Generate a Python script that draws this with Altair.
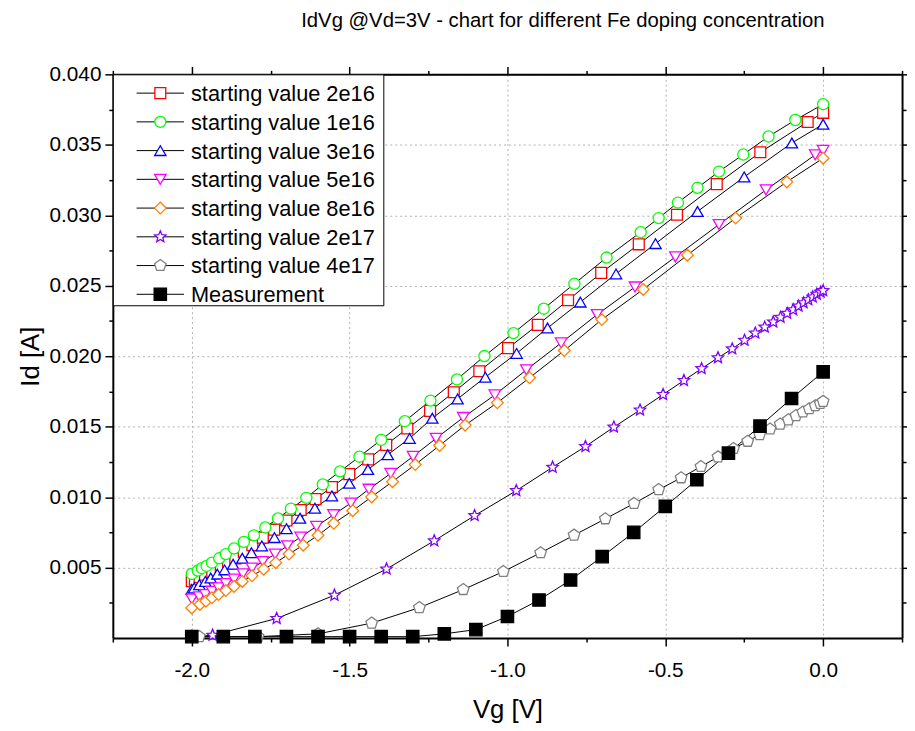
import altair as alt
import pandas as pd

# ---------------- data ----------------
series_names = [
    "starting value 2e16", "starting value 1e16", "starting value 3e16",
    "starting value 5e16", "starting value 8e16", "starting value 2e17",
    "starting value 4e17", "Measurement",
]
colors = ["#FF0000", "#00FF00", "#0000FF", "#FF00FF", "#FF8000", "#8000FF", "#808080", "#000000"]
STAR = ("M0,-1L0.2645,-0.3641L0.9511,-0.309L0.428,0.1391L0.5878,0.809L0,0.45"
        "L-0.5878,0.809L-0.428,0.1391L-0.9511,-0.309L-0.2645,-0.3641Z")
PENT = "M0,-1L0.9511,-0.309L0.5878,0.809L-0.5878,0.809L-0.9511,-0.309Z"
shapes = ["square", "circle", "triangle-up", "triangle-down", "diamond", STAR, PENT, "square"]
sizes = [121, 156, 169, 169, 196, 169, 156, 130]
fills = ["white"] * 7 + ["black"]

v_2e16 = [-2.0, -1.99, -1.975, -1.958, -1.935, -1.908, -1.885, -1.862, -1.835, -1.808, -1.775,
          -1.739, -1.700, -1.655, -1.608, -1.556, -1.501, -1.441, -1.384, -1.317, -1.245, -1.170,
          -1.089, -0.998, -0.904, -0.808, -0.703, -0.584, -0.463, -0.337, -0.199, -0.049, 0.0]
i_2e16 = [0.00403, 0.00415, 0.00432, 0.00450, 0.00470, 0.00496, 0.0053, 0.00566, 0.00612, 0.00659,
          0.00713, 0.00769, 0.00834, 0.00909, 0.00986, 0.01072, 0.01163, 0.01268, 0.01371, 0.01487,
          0.01612, 0.01744, 0.01893, 0.02057, 0.02222, 0.02397, 0.02591, 0.02794, 0.03004, 0.03221,
          0.03447, 0.03662, 0.03727]

v_1e16 = [-2.0, -1.981, -1.968, -1.953, -1.936, -1.913, -1.892, -1.866, -1.835, -1.803, -1.767,
          -1.727, -1.686, -1.637, -1.585, -1.530, -1.469, -1.400, -1.325, -1.244, -1.160, -1.073,
          -0.981, -0.885, -0.788, -0.686, -0.578, -0.521, -0.460, -0.398, -0.330, -0.253, -0.173,
          -0.088, 0.0]
i_1e16 = [0.00455, 0.00479, 0.00496, 0.00512, 0.00535, 0.00566, 0.00596, 0.00636, 0.00682, 0.00729,
          0.00785, 0.00849, 0.00918, 0.00995, 0.01090, 0.01183, 0.01287, 0.01406, 0.01539, 0.01685,
          0.01835, 0.02001, 0.02164, 0.02337, 0.02514, 0.02700, 0.02880, 0.02980, 0.03090, 0.03195,
          0.03310, 0.03431, 0.03559, 0.03676, 0.03788]

v_3e16 = [-2.0, -1.992, -1.976, -1.957, -1.940, -1.919, -1.896, -1.869, -1.840, -1.811, -1.778,
          -1.738, -1.700, -1.657, -1.610, -1.556, -1.501, -1.442, -1.379, -1.310, -1.238, -1.158,
          -1.070, -0.971, -0.873, -0.769, -0.656, -0.531, -0.398, -0.250, -0.099, 0.0]
i_3e16 = [0.00345, 0.00356, 0.00379, 0.00402, 0.00426, 0.00454, 0.00484, 0.00524, 0.00566, 0.00605,
          0.00654, 0.00713, 0.00776, 0.00850, 0.00922, 0.01009, 0.01098, 0.01196, 0.01301, 0.01417,
          0.01560, 0.01697, 0.01851, 0.02020, 0.02200, 0.02384, 0.02584, 0.02799, 0.03027, 0.03272,
          0.03513, 0.03646]

v_5e16 = [-2.0, -1.976, -1.957, -1.936, -1.915, -1.892, -1.866, -1.838, -1.809, -1.775, -1.736,
          -1.697, -1.655, -1.605, -1.551, -1.496, -1.439, -1.370, -1.299, -1.226, -1.140, -1.040,
          -0.940, -0.830, -0.716, -0.596, -0.468, -0.330, -0.181, -0.025, 0.0]
i_5e16 = [0.00277, 0.00293, 0.00309, 0.00332, 0.00356, 0.00386, 0.00419, 0.00456, 0.00496, 0.00542,
          0.00596, 0.00654, 0.00717, 0.00792, 0.00875, 0.00958, 0.01056, 0.01168, 0.01289, 0.01417,
          0.01565, 0.01725, 0.01903, 0.02094, 0.02295, 0.02491, 0.02705, 0.02934, 0.03180, 0.03429,
          0.03460]

v_8e16 = [-2.0, -1.974, -1.955, -1.936, -1.915, -1.892, -1.866, -1.840, -1.809, -1.772, -1.734,
          -1.692, -1.647, -1.600, -1.550, -1.490, -1.430, -1.364, -1.292, -1.215, -1.134, -1.032,
          -0.930, -0.820, -0.701, -0.570, -0.430, -0.277, -0.115, 0.0]
i_8e16 = [0.00214, 0.00239, 0.00262, 0.00286, 0.00309, 0.00337, 0.00367, 0.00402, 0.00442, 0.00489,
          0.00535, 0.00596, 0.00659, 0.00729, 0.00815, 0.00904, 0.01002, 0.01110, 0.01231, 0.01366,
          0.01511, 0.01670, 0.01847, 0.02040, 0.02260, 0.02474, 0.02717, 0.02980, 0.03237, 0.03405]

v_2e17 = [-2.0, -1.934, -1.731, -1.548, -1.383, -1.232, -1.104, -0.972, -0.857, -0.753, -0.663,
          -0.580, -0.507, -0.441, -0.385, -0.333, -0.288, -0.249, -0.215, -0.185, -0.158, -0.135,
          -0.114, -0.095, -0.078, -0.062, -0.047, -0.033, -0.020, -0.008, 0.0]
i_2e17 = [0.0001, 0.0002, 0.00139, 0.00304, 0.00490, 0.00690, 0.00869, 0.01046, 0.01212, 0.01359,
          0.01497, 0.01618, 0.01728, 0.01828, 0.01912, 0.01989, 0.02052, 0.02113, 0.02164, 0.02206,
          0.02243, 0.02276, 0.02304, 0.02330, 0.02355, 0.02379, 0.02400, 0.02420, 0.02440, 0.02455,
          0.02465]

v_4e17 = [-2.0, -1.976, -1.79, -1.60, -1.43, -1.279, -1.14, -1.013, -0.895, -0.789, -0.690, -0.599,
          -0.521, -0.450, -0.387, -0.333, -0.284, -0.239, -0.201, -0.168, -0.136, -0.110, -0.086,
          -0.064, -0.044, -0.025, -0.009, 0.0]
i_4e17 = [0.0001, 0.0001, 0.0001, 0.0003, 0.00106, 0.00216, 0.00344, 0.00472, 0.00605, 0.00730,
          0.00846, 0.00955, 0.01053, 0.01137, 0.01217, 0.01285, 0.01345, 0.01396, 0.01443, 0.01483,
          0.01518, 0.01548, 0.01578, 0.01604, 0.01627, 0.01648, 0.01664, 0.01679]

v_meas = [-2.0, -1.9, -1.8, -1.7, -1.6, -1.5, -1.4, -1.3, -1.2, -1.1, -1.0, -0.9, -0.8, -0.7, -0.6,
          -0.5, -0.4, -0.3, -0.2, -0.1, 0.0]
i_meas = [0.0001, 0.0001, 0.0001, 0.0001, 0.0001, 0.0001, 0.0001, 0.0001, 0.0003, 0.0006, 0.00153,
          0.0027, 0.00412, 0.00578, 0.0075, 0.00934, 0.01123, 0.01312, 0.01504, 0.0170, 0.01889]

x_ticks = [-2.25, -2.0, -1.75, -1.5, -1.25, -1.0, -0.75, -0.5, -0.25, 0.0, 0.25]
y_ticks = [0.0025, 0.005, 0.0075, 0.01, 0.0125, 0.015, 0.0175, 0.02, 0.0225, 0.025, 0.0275,
           0.03, 0.0325, 0.035, 0.0375, 0.04]

all_series = [(v_2e16, i_2e16), (v_1e16, i_1e16), (v_3e16, i_3e16), (v_5e16, i_5e16),
              (v_8e16, i_8e16), (v_2e17, i_2e17), (v_4e17, i_4e17), (v_meas, i_meas)]

rows = []
for order, (name, (vs, cs)) in enumerate(zip(series_names, all_series)):
    for v, c in zip(vs, cs):
        rows.append({"series": name, "order": order, "Vg": v, "Id": c})
df = pd.DataFrame(rows)

legend_df = pd.DataFrame({"series": series_names, "row": list(range(len(series_names)))})
box_df = pd.DataFrame({"k": [0]})

# ---------------- style ----------------
FONT = "Liberation Sans"
X_MAJOR = "abs(datum.value * 2 - round(datum.value * 2)) < 0.001"
Y_MAJOR = "abs(datum.value * 200 - round(datum.value * 200)) < 0.001"

x_scale = alt.Scale(domain=[-2.25, 0.25], nice=False, zero=False)
y_scale = alt.Scale(domain=[0, 0.04], nice=False, zero=False)

shape_s = alt.Scale(domain=series_names, range=shapes)
stroke_s = alt.Scale(domain=series_names, range=colors)
fill_s = alt.Scale(domain=series_names, range=fills)
size_s = alt.Scale(domain=series_names, range=sizes)


def make_axis(orient, values, major, labels, fmt, title=None, grid=False,
              label_pad=2, title_pad=4):
    kw = dict(
        orient=orient, values=values,
        tickSize={"condition": {"test": major, "value": 8}, "value": 4},
        tickWidth=1.5, tickColor="black", domainColor="black", domainWidth=2,
        labelOverlap=False, labelFlush=False, labelBound=False,
        grid=grid, gridDash=[2, 3], gridColor="#b0b0b0", gridWidth=1,
        gridOpacity={"condition": {"test": major, "value": 1}, "value": 0},
        labels=labels,
    )
    if labels:
        kw.update(labelExpr="(" + major + ") ? ((datum.value < 0 ? '-' : '') + format(abs(datum.value), '" + fmt + "')) : ''",
                  labelFont=FONT, labelFontSize=21, labelColor="black", labelPadding=label_pad)
    if title is not None:
        kw.update(title=title, titleFont=FONT, titleFontSize=26, titleFontWeight="normal",
                  titleColor="black", titlePadding=title_pad)
    else:
        kw.update(title=None)
    return alt.Axis(**kw)


lines = alt.Chart(df).mark_line(color="black", strokeWidth=1).encode(
    x=alt.X("Vg:Q", scale=x_scale,
            axis=make_axis("bottom", x_ticks, X_MAJOR, True, ".1f", "Vg [V]", grid=True,
                           label_pad=14, title_pad=16)),
    y=alt.Y("Id:Q", scale=y_scale,
            axis=make_axis("left", y_ticks, Y_MAJOR, True, ".3f", "Id [A]", grid=True,
                           label_pad=4, title_pad=6)),
    detail="series:N",
)

points = alt.Chart(df).mark_point(opacity=1, strokeWidth=1.3).encode(
    x=alt.X("Vg:Q", scale=x_scale, axis=make_axis("top", x_ticks, X_MAJOR, False, ".1f")),
    y=alt.Y("Id:Q", scale=y_scale, axis=make_axis("right", y_ticks, Y_MAJOR, False, ".3f")),
    shape=alt.Shape("series:N", scale=shape_s, legend=None),
    stroke=alt.Stroke("series:N", scale=stroke_s, legend=None),
    fill=alt.Fill("series:N", scale=fill_s, legend=None),
    size=alt.Size("series:N", scale=size_s, legend=None),
    order=alt.Order("order:Q"),
)

# ---------------- legend (drawn by hand) ----------------
row_y = alt.Y("row:O", scale=alt.Scale(type="point", range=[19, 222.4], padding=0), axis=None)

leg_box = alt.Chart(box_df).mark_rect(fill="white", stroke="black", strokeWidth=1).encode(
    x=alt.value(0.5), x2=alt.value(274), y=alt.value(0.5), y2=alt.value(234),
)
leg_rule = alt.Chart(legend_df).mark_rule(color="black", strokeWidth=1).encode(
    x=alt.value(24), x2=alt.value(72), y=row_y,
)
leg_pts = alt.Chart(legend_df).mark_point(opacity=1, strokeWidth=1.3).encode(
    x=alt.value(48), y=row_y,
    shape=alt.Shape("series:N", scale=shape_s, legend=None),
    stroke=alt.Stroke("series:N", scale=stroke_s, legend=None),
    fill=alt.Fill("series:N", scale=fill_s, legend=None),
    size=alt.Size("series:N", scale=size_s, legend=None),
)
leg_text = alt.Chart(legend_df).mark_text(
    align="left", baseline="middle", font=FONT, fontSize=22, color="black", dy=1
).encode(x=alt.value(79), y=row_y, text="series:N")

chart = alt.layer(lines, points, leg_box, leg_rule, leg_pts, leg_text).resolve_scale(
    y="independent"
).resolve_axis(x="independent", y="independent").properties(
    width=798, height=570,
    autosize=alt.AutoSizeParams(type="none"),
    padding={"left": 106, "top": 63, "right": 5, "bottom": 100},
    title=alt.TitleParams(
        "IdVg @Vd=3V - chart for different Fe doping concentration",
        font=FONT, fontSize=20.5, fontWeight="normal", color="black",
        anchor="middle", baseline="alphabetic", offset=16, dx=56,
    ),
).configure_view(stroke=None).configure(background="white")

chart.save("out.html", embed_options={"renderer": "svg", "actions": False})
